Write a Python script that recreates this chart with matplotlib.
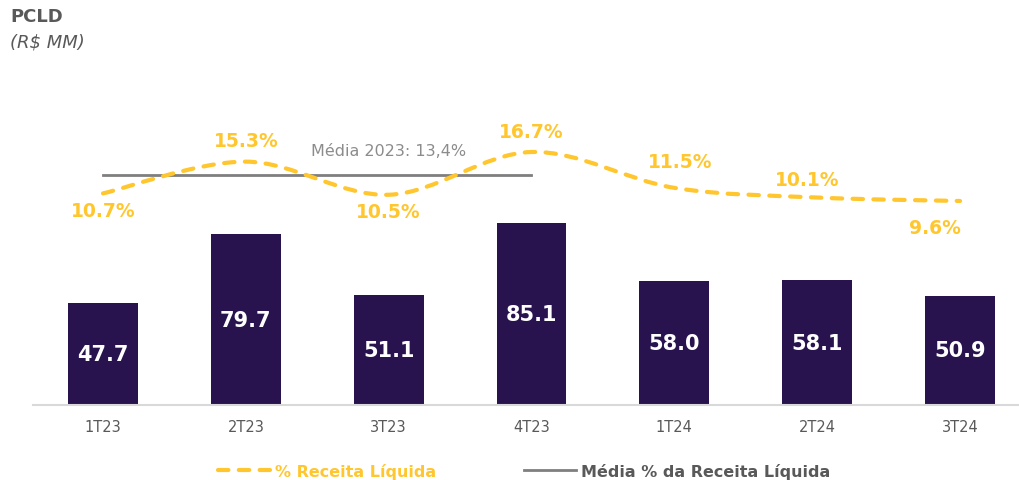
import matplotlib
matplotlib.use("Agg")
import matplotlib.pyplot as plt
from matplotlib.path import Path
from matplotlib.patches import PathPatch
from matplotlib.lines import Line2D

quarters = ["1T23", "2T23", "3T23", "4T23", "1T24", "2T24", "3T24"]
pcld = [47.7, 79.7, 51.1, 85.1, 58.0, 58.1, 50.9]
pct_receita = [10.7, 15.3, 10.5, 16.7, 11.5, 10.1, 9.6]
media_2023 = 13.4
media_span = ["1T23", "4T23"]

PURPLE = "#28134F"
YELLOW = "#FFC62E"
GRAY = "#7F7F7F"

plt.rcParams["font.family"] = ["DejaVu Sans"]

fig = plt.figure(figsize=(10.2, 4.81), dpi=100)
ax = fig.add_axes([33 / 1020, 1 - 406 / 481, 1 - 33 / 1020, 306 / 481])
x = list(range(len(quarters)))

ax.bar(x, pcld, width=0.49, color=PURPLE, zorder=2)
for xi, v in zip(x, pcld):
    ax.text(xi, v / 2, f"{v:.1f}", ha="center", va="center", color="white",
            fontsize=15, fontweight="bold", zorder=3)
ax.set_xlim(-0.49, 6.42)
ax.set_ylim(0, 142.7)
ax.set_xticks(x)
ax.set_xticklabels(quarters, fontsize=10.5, color="#595959")
ax.tick_params(axis="x", length=0, pad=10)
ax.set_yticks([])
for s in ["top", "right", "left"]:
    ax.spines[s].set_visible(False)
ax.spines["bottom"].set_color("#D9D9D9")
ax.spines["bottom"].set_linewidth(1.5)

ax2 = ax.twinx()
ax2.set_ylim(-19.97, 24.38)
ax2.axis("off")

# smooth line (Catmull-Rom style bezier through the data points)
pts = list(zip(x, pct_receita))
verts = [pts[0]]
codes = [Path.MOVETO]
for i in range(len(pts) - 1):
    p0 = pts[i - 1] if i > 0 else pts[i]
    p1, p2 = pts[i], pts[i + 1]
    p3 = pts[i + 2] if i + 2 < len(pts) else pts[i + 1]
    c1 = (p1[0] + (p2[0] - p0[0]) / 6, p1[1] + (p2[1] - p0[1]) / 6)
    c2 = (p2[0] - (p3[0] - p1[0]) / 6, p2[1] - (p3[1] - p1[1]) / 6)
    verts += [c1, c2, p2]
    codes += [Path.CURVE4] * 3
curve = PathPatch(Path(verts, codes), fill=False, edgecolor=YELLOW, lw=3,
                  linestyle=(0, (2.5, 2.5)), capstyle="round", zorder=4)
ax2.add_patch(curve)

i0, i1 = quarters.index(media_span[0]), quarters.index(media_span[1])
ax2.plot([i0, i1], [media_2023, media_2023], color=GRAY, lw=2, zorder=3)
ax2.text(2.0, media_2023 + 3.45, "Média 2023: 13,4%", ha="center",
         va="center", color="#8C8C8C", fontsize=11.5)

offsets = [(0, -16), (0, 20), (0, -16), (0, 20), (6, 25), (-10, 17), (-24, -25)]
for xi, v, (dx, dy) in zip(x, pct_receita, offsets):
    ax2.annotate(f"{v:.1f}%", (xi, v), textcoords="offset points", xytext=(dx * 0.75, dy * 0.75),
                 ha="center", va="center", color=YELLOW, fontsize=13.5, fontweight="bold")

handles = [Line2D([], [], color=YELLOW, lw=3, linestyle=(0, (2.5, 2.5)),
                  dash_capstyle="round"),
           Line2D([], [], color=GRAY, lw=2)]
fig.legend(handles, ["% Receita Líquida", "Média % da Receita Líquida"],
           loc="center", bbox_to_anchor=(0.514, 1 - 472 / 481), ncol=2, frameon=False,
           prop={"weight": "bold", "size": 11.5}, labelcolor=[YELLOW, "#595959"],
           handlelength=3.25, handletextpad=0.3, columnspacing=5.5)

fig.text(10 / 1020, 1 - 17 / 481, "PCLD", fontsize=13, fontweight="bold", color="#595959",
         va="center")
fig.text(10 / 1020, 1 - 42 / 481, "(R$ MM)", fontsize=13, style="italic", color="#595959",
         va="center")

fig.savefig("out.png", dpi=100)
